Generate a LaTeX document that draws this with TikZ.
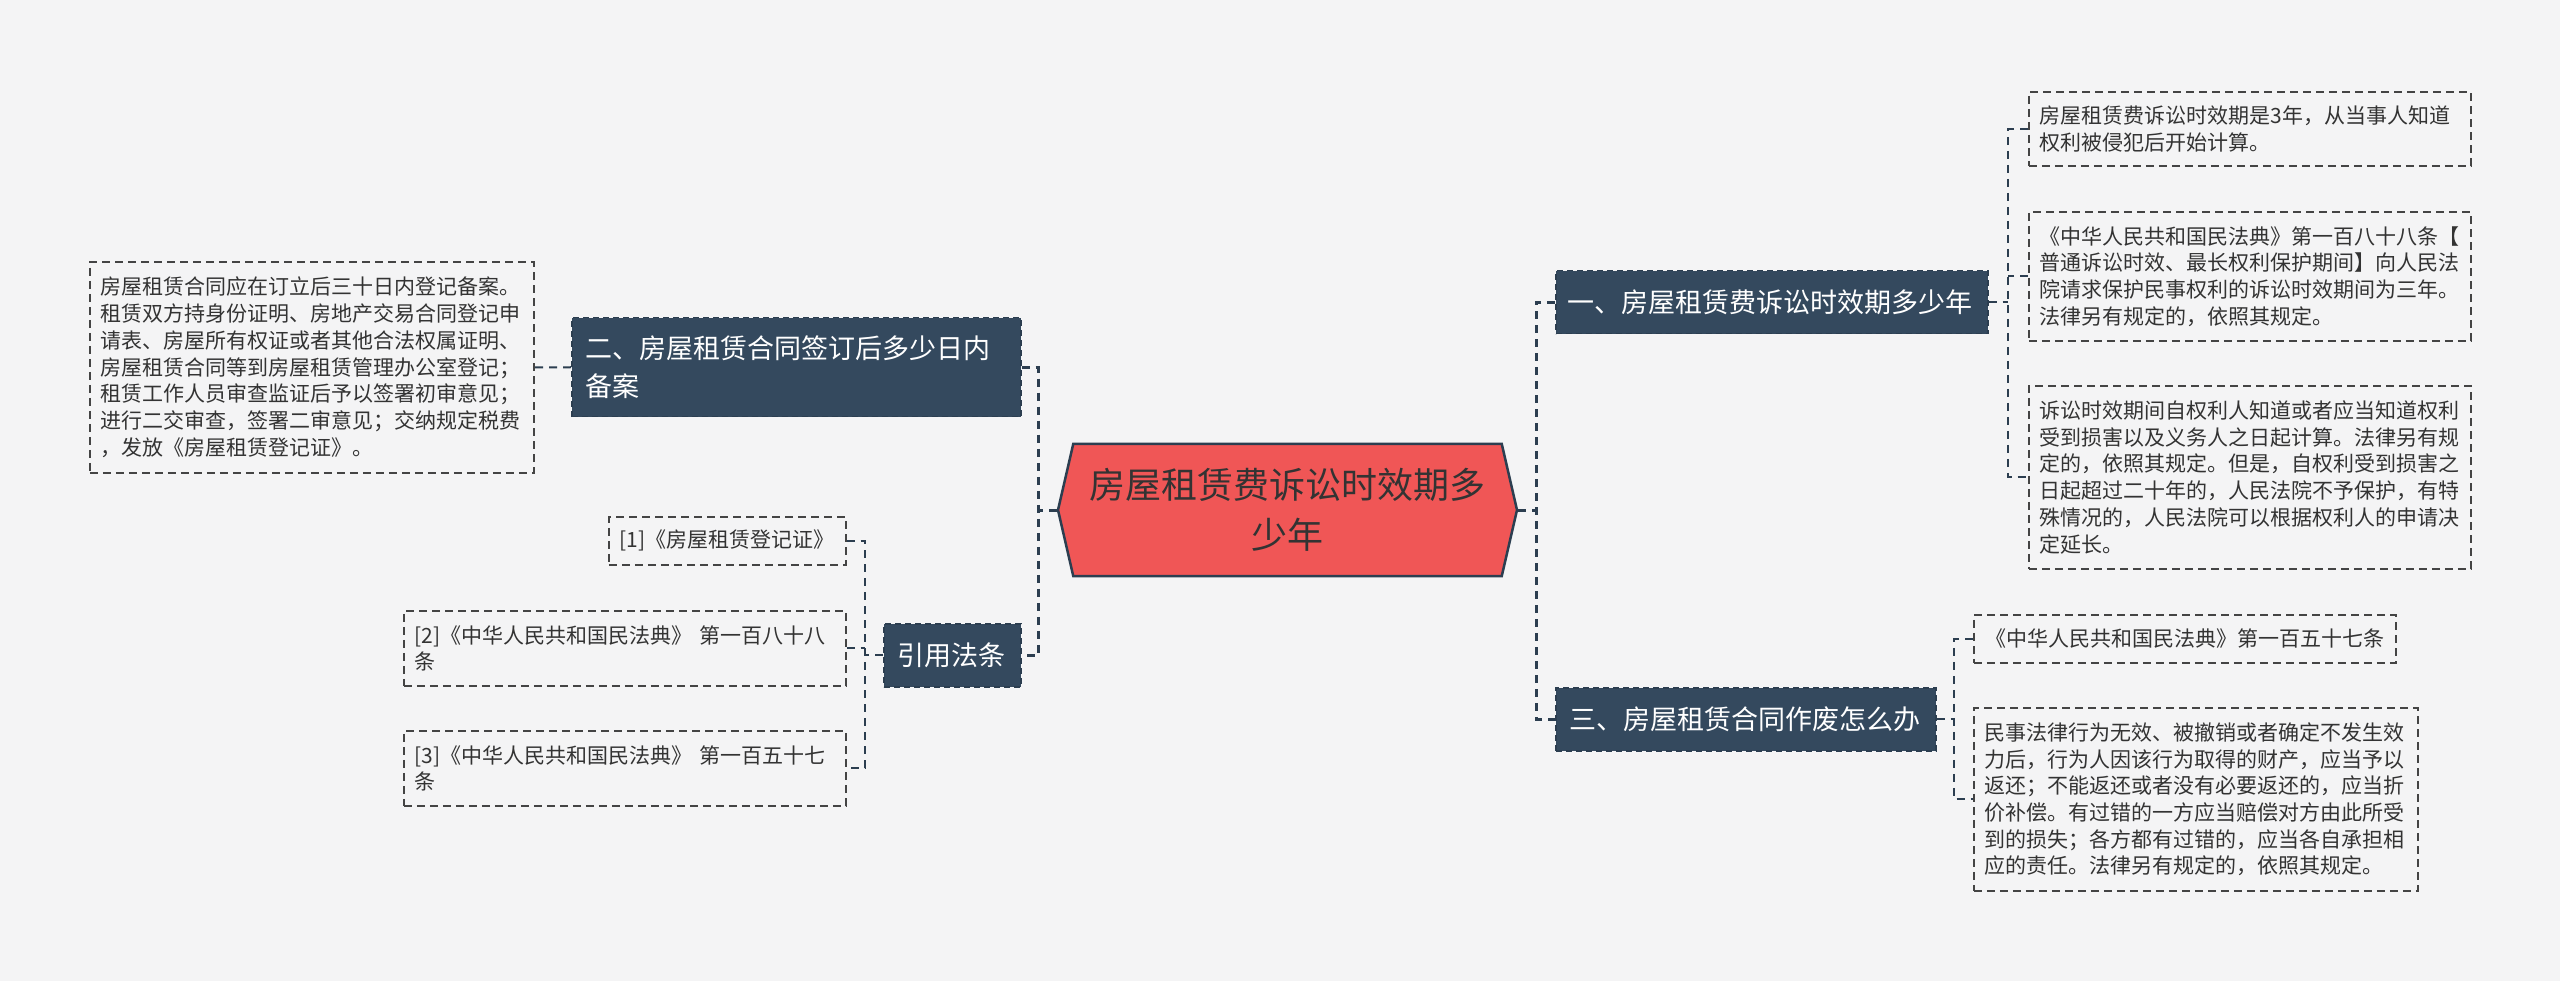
\documentclass[tikz,border=0pt]{standalone}
\usepackage{fontspec}
\newfontfamily\cjk{Noto Sans CJK SC}
\usetikzlibrary{shapes.symbols}
\definecolor{bgc}{HTML}{F4F4F5}
\definecolor{navy}{HTML}{34495E}
\definecolor{navyline}{HTML}{2C3E50}
\definecolor{hexred}{HTML}{F05656}
\definecolor{txt}{HTML}{333333}
\definecolor{leafline}{HTML}{444444}
\tikzset{
  trunk/.style={draw=navyline, line width=3pt, dash pattern=on 8pt off 6pt},
  twig/.style={draw=navyline, line width=2pt, dash pattern=on 8pt off 6pt},
  mainbox/.style={rectangle, fill=navy, draw=navyline, line width=1.5pt,
    dash pattern=on 6pt off 4pt, text=white,
    font=\cjk\fontsize{27}{38}\selectfont, inner xsep=14pt, inner ysep=0pt,
    anchor=north west, align=left},
  leaf/.style={rectangle, draw=leafline, line width=1.6pt,
    dash pattern=on 8pt off 5pt, fill=bgc, text=txt,
    font=\cjk\fontsize{21}{26.7}\selectfont, inner xsep=11pt, inner ysep=0pt,
    anchor=north west, align=left}
}
\begin{document}
\begin{tikzpicture}[x=1pt,y=-1pt]
\useasboundingbox (0,0) rectangle (2560,981);
\fill[bgc] (0,0) rectangle (2560,981);

% centre
\node[shape=signal, signal to=west and east, signal pointer angle=154,
  minimum width=459pt, minimum height=132pt, fill=hexred, draw=navyline,
  line width=2.5pt, text=txt, font=\cjk\fontsize{36}{50}\selectfont,
  align=center, inner sep=0pt] (hex) at (1287.5,510)
  {房屋租赁费诉讼时效期多\\少年};

% main branches
\node[mainbox, text width=408pt, inner xsep=12pt, minimum height=63pt] (b1) at (1555,270)
  {一、房屋租赁费诉讼时效期多少年};
\node[mainbox, text width=352pt, minimum height=63pt] (b3) at (1555,687)
  {三、房屋租赁合同作废怎么办};
\node[mainbox, text width=421pt, minimum height=99pt] (b2) at (571,317)
  {二、房屋租赁合同签订后多少日内\\备案};
\node[mainbox, text width=109pt, minimum height=63pt] (b4) at (883,623)
  {引用法条};

% leaves left
\node[leaf, text width=422pt, minimum height=211pt] (L) at (89,261)
  {房屋租赁合同应在订立后三十日内登记备案。\\
   租赁双方持身份证明、房地产交易合同登记申\\
   请表、房屋所有权证或者其他合法权属证明、\\
   房屋租赁合同等到房屋租赁管理办公室登记；\\
   租赁工作人员审查监证后予以签署初审意见；\\
   进行二交审查，签署二审意见；交纳规定税费\\
   ，发放《房屋租赁登记证》。};
\node[leaf, text width=215pt, minimum height=48pt, align=center] (c1) at (608,516)
  {[1]《房屋租赁登记证》};
\node[leaf, text width=420pt, minimum height=75pt] (c2) at (403,610)
  {[2]《中华人民共和国民法典》~第一百八十八\\条};
\node[leaf, text width=420pt, minimum height=75pt] (c3) at (403,730)
  {[3]《中华人民共和国民法典》~第一百五十七\\条};

% leaves right
\node[leaf, text width=420pt, minimum height=74pt] (r1) at (2028,91)
  {房屋租赁费诉讼时效期是3年，从当事人知道\\权利被侵犯后开始计算。};
\node[leaf, text width=420pt, minimum height=129pt] (r2) at (2028,211)
  {《中华人民共和国民法典》第一百八十八条【\\
   普通诉讼时效、最长权利保护期间】向人民法\\
   院请求保护民事权利的诉讼时效期间为三年。\\
   法律另有规定的，依照其规定。};
\node[leaf, text width=420pt, minimum height=183pt] (r3) at (2028,385)
  {诉讼时效期间自权利人知道或者应当知道权利\\
   受到损害以及义务人之日起计算。法律另有规\\
   定的，依照其规定。但是，自权利受到损害之\\
   日起超过二十年的，人民法院不予保护，有特\\
   殊情况的，人民法院可以根据权利人的申请决\\
   定延长。};
\node[leaf, text width=400pt, minimum height=48pt, align=center] (ra) at (1973,614)
  {《中华人民共和国民法典》第一百五十七条};
\node[leaf, text width=422pt, minimum height=183pt] (rb) at (1973,707)
  {民事法律行为无效、被撤销或者确定不发生效\\
   力后，行为人因该行为取得的财产，应当予以\\
   返还；不能返还或者没有必要返还的，应当折\\
   价补偿。有过错的一方应当赔偿对方由此所受\\
   到的损失；各方都有过错的，应当各自承担相\\
   应的责任。法律另有规定的，依照其规定。};

% bus points
\coordinate (busL) at (1038,510);
\coordinate (busR) at (1536,510);
\coordinate (bus1) at (2008,302);
\coordinate (bus3) at (1954,718);
\coordinate (bus4) at (865,654);

% connectors
\draw[trunk] (hex.west) -- (busL);
\draw[trunk] (b2.east) -| (busL) |- (b4.east);
\draw[trunk] (hex.east) -- (busR);
\draw[trunk] (b1.west) -| (busR) |- (b3.west);

\draw[twig] (b1.east) -- (b1.east -| bus1);
\draw[twig] (r1.west) -| (bus1) |- (r3.west);
\draw[twig] (r2.west) -- (r2.west -| bus1);
\draw[twig] (b3.east) -- (b3.east -| bus3);
\draw[twig] (ra.west) -| (bus3) |- (rb.west);
\draw[twig] (b2.west) -- (L.east);
\draw[twig] (b4.west) -- (b4.west -| bus4);
\draw[twig] (c1.east) -| (bus4) |- (c3.east);
\draw[twig] (c2.east) -- (c2.east -| bus4);
\end{tikzpicture}
\end{document}
